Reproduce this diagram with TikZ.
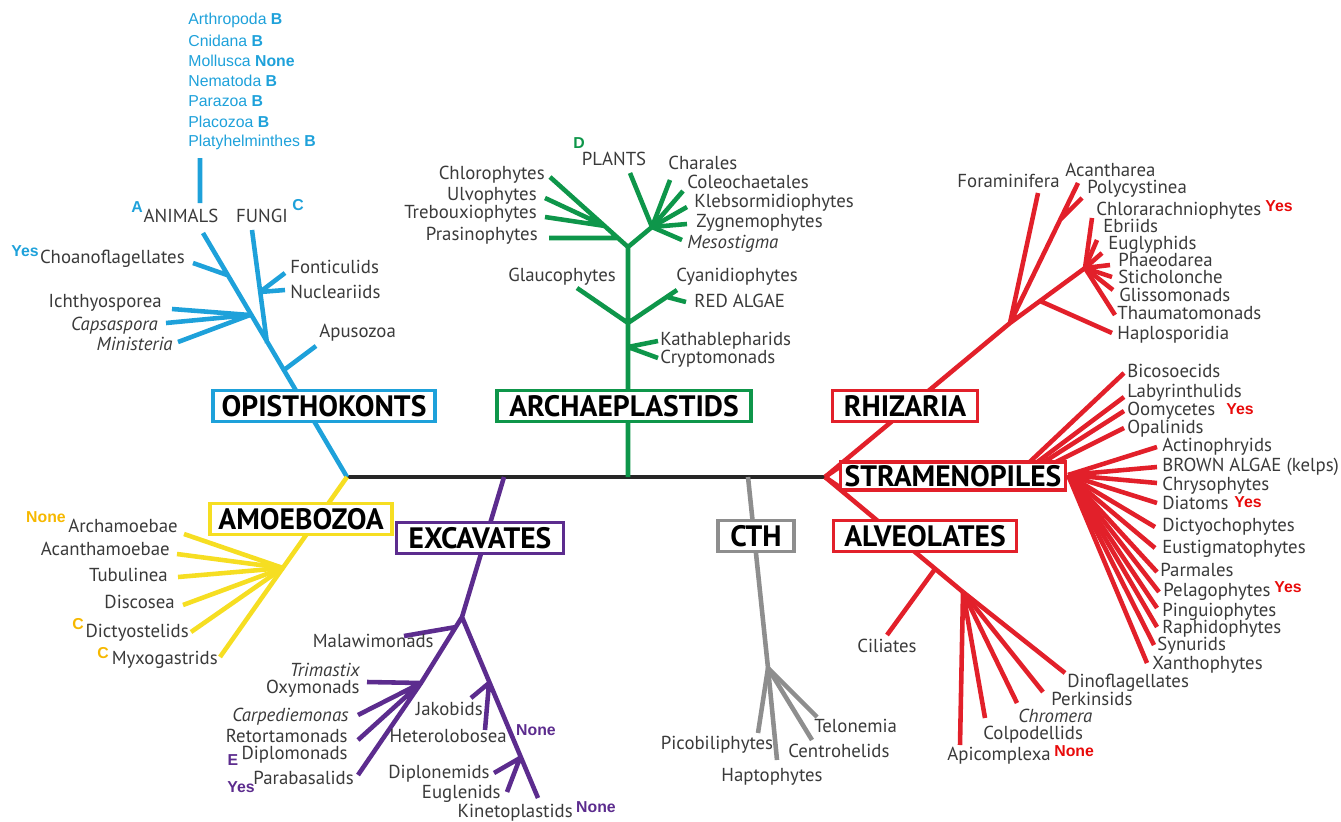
\documentclass[tikz,border=0pt]{standalone}
\usepackage{fontspec}
\setmainfont{PT Sans}
\newfontfamily\tagfont{Liberation Sans}

\definecolor{opiblue}{RGB}{30,161,218}
\definecolor{arcgreen}{RGB}{14,150,74}
\definecolor{sarred}{RGB}{226,32,42}
\definecolor{amoyellow}{RGB}{246,222,34}
\definecolor{excpurple}{RGB}{92,44,142}
\definecolor{cthgray}{RGB}{142,142,142}
\definecolor{labelgray}{RGB}{58,58,58}
\definecolor{noneyellow}{RGB}{246,184,0}
\definecolor{tagred}{RGB}{232,10,10}

\begin{document}
\begin{tikzpicture}[x=0.02cm, y=-0.02cm,
    branch/.style={line width=2.6pt},
    tax/.style={text=labelgray, font=\fontsize{10.7}{12}\selectfont, inner sep=0pt, text height=6.6pt, text depth=1.4pt},
    taxit/.style={tax, font=\fontsize{10.7}{12}\selectfont\itshape},
    tag/.style={font=\tagfont\bfseries\fontsize{9}{10}\selectfont, inner sep=0pt},
    clade/.style={draw, line width=1.9pt, fill=white, text=black, font=\fontsize{16.8}{18}\selectfont\bfseries, inner sep=0pt, minimum height=0.62cm}]
  \useasboundingbox (0,0) rectangle (1341,821);

  % backbone
  \coordinate (root) at (347,477);
  \coordinate (apex) at (825,477);
  \draw[line width=2.2pt, black!85] (root) -- (apex);

  % opisthokonts
  \coordinate (anitop) at (203,233);
  \coordinate (fubase) at (267,343);
  \coordinate (futop) at (252,230);
  \coordinate (fonfork) at (260,292);
  \coordinate (fonti) at (285,273);
  \coordinate (nucle) at (285,290);
  \coordinate (chbase) at (227,275);
  \coordinate (choano) at (193,263);
  \coordinate (ichfork) at (250,315);
  \coordinate (ichth) at (172,309);
  \coordinate (capsa) at (166,323);
  \coordinate (minis) at (178,342);
  \coordinate (apubase) at (284,370);
  \coordinate (apuso) at (316,346);
  \coordinate (phyla) at (200,158);
  \coordinate (anistem) at (200,203);
  \draw[branch, opiblue] (root) -- (anitop) (fubase) -- (futop)
    (fonfork) -- (fonti) (fonfork) -- (nucle) (chbase) -- (choano)
    (apubase) -- (apuso) (phyla) -- (anistem);
  \foreach \t in {ichth,capsa,minis}
    \draw[branch, opiblue] (ichfork) -- (\t);

  % archaeplastids
  \coordinate (archbase) at (628,477);
  \coordinate (plfork) at (628,247);
  \coordinate (chloro) at (550,177);
  \coordinate (chlfan) at (605,226);
  \coordinate (ulvo) at (545,198);
  \coordinate (trebo) at (545,217);
  \coordinate (prabase) at (618,238);
  \coordinate (prasi) at (549,238);
  \coordinate (chafan) at (652,227);
  \coordinate (plants) at (630,173);
  \coordinate (chara) at (670,180);
  \coordinate (coleo) at (683,191);
  \coordinate (klebs) at (687,207);
  \coordinate (zygne) at (687,224);
  \coordinate (mesos) at (682,240);
  \coordinate (glfork) at (628,323);
  \coordinate (glauco) at (577,288);
  \coordinate (cyani) at (677,290);
  \coordinate (redfork) at (667,297);
  \coordinate (redalg) at (686,302);
  \coordinate (katfork) at (628,347);
  \coordinate (katha) at (658,341);
  \coordinate (crypto) at (658,358);
  \draw[branch, arcgreen] (archbase) -- (plfork) -- (chloro)
    (chlfan) -- (ulvo) (chlfan) -- (trebo) (prabase) -- (prasi)
    (plfork) -- (chafan) -- (plants)
    (glfork) -- (glauco) (glfork) -- (cyani) (redfork) -- (redalg)
    (katfork) -- (katha) (katfork) -- (crypto);
  \foreach \t in {chara,coleo,klebs,zygne,mesos}
    \draw[branch, arcgreen] (chafan) -- (\t);

  % rhizaria
  \coordinate (rhfork) at (1010,323);
  \coordinate (foram) at (1038,193);
  \coordinate (acanta) at (1078,183);
  \coordinate (polfork) at (1060,220);
  \coordinate (polyc) at (1082,198);
  \coordinate (rhfan) at (1085,268);
  \coordinate (hapfork) at (1040,301);
  \coordinate (haplo) at (1112,333);
  \draw[branch, sarred] (apex) -- (rhfork) -- (foram) (rhfork) -- (acanta)
    (polfork) -- (polyc) (rhfork) -- (rhfan) (hapfork) -- (haplo);
  \foreach \t/\x/\y in {chlor/1092/218, ebri/1097/240, eugly/1102/253, phaeo/1110/265,
      stich/1112/277, gliss/1113/290, thaum/1115/315}{
    \coordinate (\t) at (\x,\y);
    \draw[branch, sarred] (rhfan) -- (\t);
  }

  % stramenopiles
  \coordinate (strtop) at (841,466);
  \coordinate (strbot) at (841,488);
  \coordinate (stup) at (1000,490);
  \coordinate (stfan) at (1068,475);
  \draw[branch, sarred] (apex) -- (strtop) (apex) -- (strbot);
  \foreach \t/\y in {bicos/373, labyr/397, oomyc/411, opali/428}{
    \coordinate (\t) at (1124,\y);
    \draw[branch, sarred] (stup) -- (\t);
  }
  \foreach \t/\x/\y in {actin/1157/447, brown/1157/467, chrys/1157/483, diato/1157/503,
      dicty/1155/527, eusti/1155/548, parma/1157/572, pelag/1159/592, pingu/1157/608,
      raphi/1157/627, synur/1154/645, xanth/1147/663}{
    \coordinate (\t) at (\x,\y);
    \draw[branch, sarred] (stfan) -- (\t);
  }

  % alveolates
  \coordinate (alvfan) at (963,592);
  \coordinate (cilbase) at (935,569);
  \coordinate (cilia) at (887,635);
  \draw[branch, sarred] (apex) -- (alvfan) (cilbase) -- (cilia);
  \foreach \t/\x/\y in {apico/960/745, colpo/985/718, chrom/1017/703, perki/1043/692, dino/1065/673}{
    \coordinate (\t) at (\x,\y);
    \draw[branch, sarred] (alvfan) -- (\t);
  }

  % cth
  \coordinate (cthbase) at (748,477);
  \coordinate (cthfork) at (768,668);
  \draw[branch, cthgray] (cthbase) -- (cthfork);
  \foreach \t/\x/\y in {picob/758/733, hapto/777/760, centr/812/740, telon/817/717}{
    \coordinate (\t) at (\x,\y);
    \draw[branch, cthgray] (cthfork) -- (\t);
  }

  % amoebozoa
  \coordinate (myxo) at (220,657);
  \coordinate (amofan) at (283,568);
  \draw[branch, amoyellow] (root) -- (myxo);
  \foreach \t/\x/\y in {archa/184/534, acanth/177/554, tubul/178/577, disco/183/605, dictyo/191/632}{
    \coordinate (\t) at (\x,\y);
    \draw[branch, amoyellow] (amofan) -- (\t);
  }

  % excavates
  \coordinate (excbase) at (504,477);
  \coordinate (excfork) at (462,617);
  \coordinate (malbase) at (456,627);
  \coordinate (malaw) at (404,636);
  \coordinate (oxyfork) at (421,683);
  \coordinate (parab) at (358,775);
  \coordinate (oxymo) at (367,682);
  \coordinate (carpe) at (358,715);
  \coordinate (retor) at (358,740);
  \coordinate (kineto) at (538,798);
  \coordinate (jakfork) at (489,683);
  \coordinate (jakob) at (471,698);
  \coordinate (heter) at (485,730);
  \coordinate (dipfork) at (520,758);
  \coordinate (diplo) at (494,773);
  \coordinate (eugle) at (507,792);
  \draw[branch, excpurple] (excbase) -- (excfork) -- (oxyfork) -- (parab)
    (malbase) -- (malaw) (oxyfork) -- (oxymo) (oxyfork) -- (carpe) (oxyfork) -- (retor)
    (excfork) -- (kineto) (jakfork) -- (jakob) (jakfork) -- (heter)
    (dipfork) -- (diplo) (dipfork) -- (eugle);

  % clade boxes
  \node[clade, draw=opiblue, minimum width=4.44cm] (opibox) at (324,406) {OPISTHOKONTS};
  \node[clade, draw=arcgreen, minimum width=5.08cm] (arcbox) at (624,406) {ARCHAEPLASTIDS};
  \node[clade, draw=sarred, minimum width=2.9cm] (rhibox) at (905,406) {RHIZARIA};
  \node[clade, draw=sarred, minimum width=4.5cm, minimum height=0.56cm] (strbox) at (953,476) {STRAMENOPILES};
  \node[clade, draw=sarred, minimum width=3.66cm] (alvbox) at (925,536) {ALVEOLATES};
  \node[clade, draw=cthgray, minimum width=1.52cm] (cthbox) at (756,536) {CTH};
  \node[clade, draw=amoyellow, minimum width=3.64cm] (amobox) at (301,519) {AMOEBOZOA};
  \node[clade, draw=excpurple, minimum width=3.34cm] (excbox) at (480,538) {EXCAVATES};

  % opisthokont labels
  \foreach \y/\ph/\tg [count=\i] in {20/Arthropoda/B, 41/Cnidana/B, 61/Mollusca/None,
      81/Nematoda/B, 101/Parazoa/B, 122/Placozoa/B, 142/Platyhelminthes/B}
    \node[tag, opiblue, anchor=west] (phy\i) at (188,\y) {{\mdseries\ph}\ \tg};
  \node[tag, opiblue] (tagA) at (137,207) {A};
  \node[tax] (animals-l) at (181,218) {ANIMALS};
  \node[tax] (fungi-l) at (262,218) {FUNGI};
  \node[tag, opiblue] (tagC) at (298,205) {C};
  \node[tag, opiblue] (tagYes) at (25,251) {Yes};
  \node[tax, anchor=east] (choano-l) at (185,259) {Choanoflagellates};
  \node[tax, anchor=west] (fonti-l) at (290,269) {Fonticulids};
  \node[tax, anchor=west] (nucle-l) at (290,294) {Nucleariids};
  \node[tax, anchor=east] (ichth-l) at (162,303) {Ichthyosporea};
  \node[taxit, anchor=east] (capsa-l) at (158,326) {Capsaspora};
  \node[taxit, anchor=east] (minis-l) at (173,346) {Ministeria};
  \node[tax, anchor=west] (apuso-l) at (319,333) {Apusozoa};

  % archaeplastid labels
  \node[tag, arcgreen] (tagD) at (579,143) {D};
  \node[tax] (plants-l) at (614,161) {PLANTS};
  \node[tax, anchor=east] (chloro-l) at (545,175) {Chlorophytes};
  \node[tax, anchor=east] (ulvo-l) at (537,196) {Ulvophytes};
  \node[tax, anchor=east] (trebo-l) at (537,214) {Trebouxiophytes};
  \node[tax, anchor=east] (prasi-l) at (538,236) {Prasinophytes};
  \node[tax, anchor=west] (chara-l) at (668,165) {Charales};
  \node[tax, anchor=west] (coleo-l) at (687,184) {Coleochaetales};
  \node[tax, anchor=west] (klebs-l) at (694,203) {Klebsormidiophytes};
  \node[tax, anchor=west] (zygne-l) at (696,223) {Zygnemophytes};
  \node[taxit, anchor=west] (mesos-l) at (687,244) {Mesostigma};
  \node[tax] (glauco-l) at (562,277) {Glaucophytes};
  \node[tax, anchor=west] (cyani-l) at (676,277) {Cyanidiophytes};
  \node[tax, anchor=west] (redalg-l) at (694,303) {RED ALGAE};
  \node[tax, anchor=west] (katha-l) at (660,341) {Kathablepharids};
  \node[tax, anchor=west] (crypto-l) at (660,359) {Cryptomonads};

  % rhizarian labels
  \node[tax, anchor=east] (foram-l) at (1060,183) {Foraminifera};
  \node[tax, anchor=west] (acanta-l) at (1065,172) {Acantharea};
  \node[tax, anchor=west] (polyc-l) at (1087,189) {Polycystinea};
  \node[tax, anchor=west] (chlor-l) at (1096,211) {Chlorarachniophytes};
  \node[tag, tagred] (tagYes2) at (1279,206) {Yes};
  \node[tax, anchor=west] (ebri-l) at (1103,228) {Ebriids};
  \node[tax, anchor=west] (eugly-l) at (1108,245) {Euglyphids};
  \node[tax, anchor=west] (phaeo-l) at (1118,262) {Phaeodarea};
  \node[tax, anchor=west] (stich-l) at (1118,279) {Sticholonche};
  \node[tax, anchor=west] (gliss-l) at (1119,297) {Glissomonads};
  \node[tax, anchor=west] (thaum-l) at (1117,315) {Thaumatomonads};
  \node[tax, anchor=west] (haplo-l) at (1117,335) {Haplosporidia};

  % stramenopile labels
  \foreach \t/\y/\txt in {bicos/373/Bicosoecids, labyr/393/Labyrinthulids,
      oomyc/411/Oomycetes, opali/429/Opalinids}
    \node[tax, anchor=west] (\t-l) at (1127,\y) {\txt};
  \foreach \t/\x/\y/\txt in {actin/1162/447/Actinophryids, brown/1162/467/BROWN ALGAE (kelps),
      chrys/1162/486/Chrysophytes, diato/1162/505/Diatoms, dicty/1162/527/Dictyochophytes,
      eusti/1162/549/Eustigmatophytes, parma/1160/572/Parmales, pelag/1163/592/Pelagophytes,
      pingu/1162/612/Pinguiophytes, raphi/1162/629/Raphidophytes, synur/1157/646/Synurids,
      xanth/1152/665/Xanthophytes}
    \node[tax, anchor=west] (\t-l) at (\x,\y) {\txt};
  \node[tag, tagred] (tagYes3) at (1240,409) {Yes};
  \node[tag, tagred] (tagYes4) at (1248,502) {Yes};
  \node[tag, tagred] (tagYes5) at (1288,587) {Yes};

  % alveolate labels
  \node[tax] (cilia-l) at (887,648) {Ciliates};
  \node[tax, anchor=west] (dino-l) at (1067,683) {Dinoflagellates};
  \node[tax, anchor=west] (perki-l) at (1051,701) {Perkinsids};
  \node[taxit, anchor=west] (chrom-l) at (1018,718) {Chromera};
  \node[tax, anchor=west] (colpo-l) at (983,735) {Colpodellids};
  \node[tax, anchor=west] (apico-l) at (947,756) {Apicomplexa};
  \node[tag, tagred, anchor=west] (tagNone1) at (1054,751) {None};

  % cth labels
  \node[tax] (picob-l) at (717,745) {Picobiliphytes};
  \node[tax] (hapto-l) at (772,777) {Haptophytes};
  \node[tax, anchor=west] (centr-l) at (788,753) {Centrohelids};
  \node[tax, anchor=west] (telon-l) at (814,728) {Telonemia};

  % amoebozoan labels
  \node[tag, noneyellow] (tagNone2) at (46,517) {None};
  \node[tax, anchor=east] (archa-l) at (178,528) {Archamoebae};
  \node[tax, anchor=east] (acanth-l) at (170,551) {Acanthamoebae};
  \node[tax, anchor=east] (tubul-l) at (168,577) {Tubulinea};
  \node[tax, anchor=east] (disco-l) at (175,604) {Discosea};
  \node[tag, noneyellow] (tagC2) at (78,624) {C};
  \node[tax, anchor=east] (dictyo-l) at (189,633) {Dictyostelids};
  \node[tag, noneyellow] (tagC3) at (103,653) {C};
  \node[tax, anchor=east] (myxo-l) at (218,660) {Myxogastrids};

  % excavate labels
  \node[tax, anchor=east] (malaw-l) at (434,643) {Malawimonads};
  \node[taxit, anchor=east] (trima-l) at (360,672) {Trimastix};
  \node[tax, anchor=east] (oxymo-l) at (360,689) {Oxymonads};
  \node[taxit, anchor=east] (carpe-l) at (349,717) {Carpediemonas};
  \node[tax, anchor=east] (retor-l) at (348,738) {Retortamonads};
  \node[tax, anchor=east] (diplom-l) at (348,755) {Diplomonads};
  \node[tag, excpurple] (tagE) at (233,760) {E};
  \node[tax, anchor=east] (parab-l) at (354,780) {Parabasalids};
  \node[tag, excpurple] (tagYes6) at (241,787) {Yes};
  \node[tax, anchor=east] (jakob-l) at (483,711) {Jakobids};
  \node[tax, anchor=east] (heter-l) at (507,738) {Heterolobosea};
  \node[tag, excpurple] (tagNone3) at (536,730) {None};
  \node[tax, anchor=east] (diplo-l) at (490,774) {Diplonemids};
  \node[tax, anchor=east] (eugle-l) at (501,794) {Euglenids};
  \node[tax, anchor=east] (kineto-l) at (573,813) {Kinetoplastids};
  \node[tag, excpurple] (tagNone4) at (596,807) {None};
\end{tikzpicture}
\end{document}
